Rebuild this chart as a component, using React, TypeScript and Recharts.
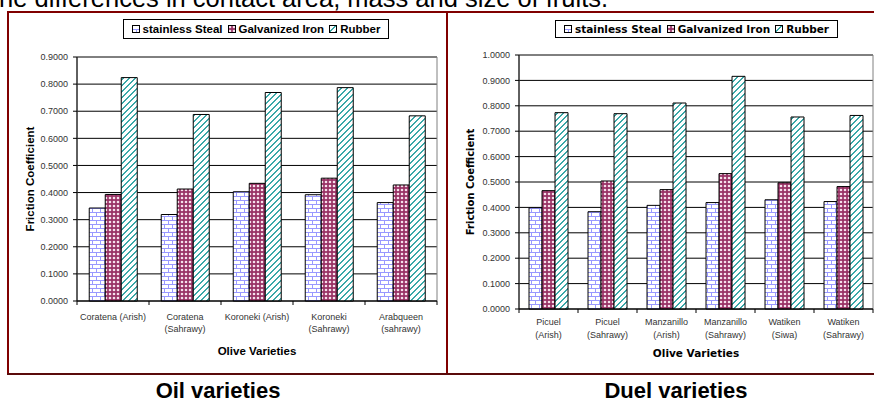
import React from 'react';
import { Bar, BarChart, CartesianGrid, Legend, ReferenceArea, XAxis, YAxis } from 'recharts';

// Oil varieties
const oilCategories = ['Coratena (Arish)', 'Coratena\n(Sahrawy)', 'Koroneki (Arish)', 'Koroneki\n(Sahrawy)', 'Arabqueen\n(sahrawy)'];
const oilStainless = [0.343, 0.319, 0.403, 0.392, 0.363];
const oilGalvanized = [0.393, 0.413, 0.434, 0.453, 0.428];
const oilRubber = [0.824, 0.688, 0.769, 0.787, 0.683];
const oilTicks = [0, 0.1, 0.2, 0.3, 0.4, 0.5, 0.6, 0.7, 0.8, 0.9];

// Duel varieties
const duelCategories = ['Picuel\n(Arish)', 'Picuel\n(Sahrawy)', 'Manzanillo\n(Arish)', 'Manzanillo\n(Sahrawy)', 'Watiken\n(Siwa)', 'Watiken\n(Sahrawy)'];
const duelStainless = [0.399, 0.383, 0.408, 0.419, 0.43, 0.423];
const duelGalvanized = [0.466, 0.504, 0.47, 0.533, 0.497, 0.482];
const duelRubber = [0.773, 0.769, 0.811, 0.916, 0.756, 0.762];
const duelTicks = [0, 0.1, 0.2, 0.3, 0.4, 0.5, 0.6, 0.7, 0.8, 0.9, 1.0];

const seriesNames = ['stainless Steal', 'Galvanized Iron', 'Rubber'];
const seriesKeys = ['steel', 'iron', 'rubber'];
const seriesFills = ['url(#fillBrick)', 'url(#fillDots)', 'url(#fillHatch)'];

const ARIAL = '"Liberation Sans", Arial, sans-serif';
const VERDANA = '"DejaVu Sans", Verdana, sans-serif';
const FRAME = '#800000';
const TEAL = '#3aa8a8';

const buildRows = (cats: string[], a: number[], b: number[], c: number[]) =>
  cats.map((name, i) => ({ name, steel: a[i], iron: b[i], rubber: c[i] }));

const oilRows = buildRows(oilCategories, oilStainless, oilGalvanized, oilRubber);
const duelRows = buildRows(duelCategories, duelStainless, duelGalvanized, duelRubber);

// upward diagonal stripes two pixels wide on a 6px tile
const HATCH = 6;
const hatchPixels: [number, number][] = [];
for (let y = 0; y < HATCH; y++) {
  for (let x = 0; x < HATCH; x++) {
    if ((x + y) % HATCH === 0 || (x + y) % HATCH === 1) hatchPixels.push([x, y]);
  }
}

// shared fill patterns, referenced by both charts and both legends
const PatternDefs = () => (
  <svg width={0} height={0} style={{ position: 'absolute' }}>
    <defs>
      <pattern id="fillBrick" width={8} height={8} patternUnits="userSpaceOnUse">
        <rect width={8} height={8} fill="#fff" />
        <g fill="#9999ff" shapeRendering="crispEdges">
          <rect x={0} y={0} width={8} height={1} />
          <rect x={0} y={4} width={8} height={1} />
          <rect x={0} y={0} width={1} height={4} />
          <rect x={4} y={4} width={1} height={4} />
        </g>
      </pattern>
      <pattern id="fillDots" width={4} height={4} patternUnits="userSpaceOnUse">
        <rect width={4} height={4} fill="#993366" />
        <circle cx={2} cy={2} r={1.3} fill="#f2cfe0" />
        <circle cx={2} cy={2} r={0.7} fill="#fff" />
      </pattern>
      <pattern id="fillHatch" width={HATCH} height={HATCH} patternUnits="userSpaceOnUse">
        <rect width={HATCH} height={HATCH} fill="#fff" />
        <g fill={TEAL} shapeRendering="crispEdges">
          {hatchPixels.map(([x, y]) => (
            <rect key={`${x}-${y}`} x={x} y={y} width={1} height={1} />
          ))}
        </g>
      </pattern>
    </defs>
  </svg>
);

const LegendBox = ({ font, size }: { font: string; size: number }) => (
  <div
    style={{
      boxSizing: 'border-box',
      width: '100%',
      height: '100%',
      border: '1px solid #000',
      background: '#fff',
      display: 'flex',
      alignItems: 'center',
      justifyContent: 'center',
      gap: 5,
      fontFamily: font,
      fontWeight: 'bold',
      fontSize: size,
      color: '#000',
      whiteSpace: 'nowrap',
    }}
  >
    {seriesNames.map((n, i) => (
      <span key={n} style={{ display: 'flex', alignItems: 'center', gap: 3 }}>
        <svg width={8} height={8}>
          <rect x={0.5} y={0.5} width={7} height={7} fill={seriesFills[i]} stroke="#000" />
        </svg>
        {n}
      </span>
    ))}
  </div>
);

const CategoryTick = (props: any) => {
  const { x, y, payload, index, visibleTicksCount, firstLine, lineGap } = props;
  const lines = String(payload.value).split('\n');
  const half = payload.offset ?? 0;
  const last = index === visibleTicksCount - 1;
  return (
    <g>
      <line x1={x - half} x2={x - half} y1={y} y2={y + 4} stroke="#000" />
      {last && <line x1={x + half} x2={x + half} y1={y} y2={y + 4} stroke="#000" />}
      <text x={x} y={y} textAnchor="middle" fontSize={9} fontFamily={ARIAL} fill="#333">
        {lines.map((l, i) => (
          <tspan key={i} x={x} dy={i === 0 ? firstLine : lineGap}>
            {l}
          </tspan>
        ))}
      </text>
    </g>
  );
};

interface PanelProps {
  rows: any[];
  ticks: number[];
  width: number;
  height: number;
  margin: { top: number; right: number; left: number; bottom: number };
  yWidth: number;
  xHeight: number;
  titleFont: string;
  titleSize: number;
  yTitleSize: number;
  yTitleDx: number;
  xTitleOffset: number;
  firstLine: number;
  lineGap: number;
  legendPos: { left: number; top: number; width: number; height: number };
  legendSize: number;
}

const FrictionPanel = (p: PanelProps) => {
  const top = p.ticks[p.ticks.length - 1];
  return (
    <BarChart
      width={p.width}
      height={p.height}
      data={p.rows}
      margin={p.margin}
      barCategoryGap="17%"
      barGap={0}
      style={{ background: '#fff' }}
    >
      <CartesianGrid vertical={false} stroke="#000" />
      <ReferenceArea y1={0} y2={top} fill="none" stroke="#808080" strokeWidth={1} ifOverflow="visible" />
      <XAxis
        dataKey="name"
        height={p.xHeight}
        interval={0}
        tickSize={0}
        tickMargin={0}
        axisLine={{ stroke: '#000' }}
        tickLine={false}
        tick={<CategoryTick firstLine={p.firstLine} lineGap={p.lineGap} />}
        label={{
          value: 'Olive Varieties',
          position: 'insideBottom',
          offset: p.xTitleOffset,
          style: { fontFamily: p.titleFont, fontWeight: 'bold', fontSize: p.titleSize, fill: '#000' },
        }}
      />
      <YAxis
        width={p.yWidth}
        domain={[0, top]}
        ticks={p.ticks}
        interval={0}
        tickSize={4}
        tickMargin={5}
        axisLine={{ stroke: '#000' }}
        tickLine={{ stroke: '#000' }}
        tick={{ fontSize: 9, fontFamily: ARIAL, fill: '#333' }}
        tickFormatter={(v: number) => v.toFixed(4)}
        label={{
          value: 'Friction Coefficient',
          angle: -90,
          position: 'center',
          dx: p.yTitleDx,
          style: { fontFamily: p.titleFont, fontWeight: 'bold', fontSize: p.yTitleSize, fill: '#000' },
        }}
      />
      <Legend
        layout="horizontal"
        verticalAlign="middle"
        align="center"
        wrapperStyle={{ ...p.legendPos }}
        content={() => <LegendBox font={p.titleFont} size={p.legendSize} />}
      />
      {seriesKeys.map((k, i) => (
        <Bar
          key={k}
          dataKey={k}
          name={seriesNames[i]}
          fill={seriesFills[i]}
          stroke="#000"
          strokeWidth={1}
          isAnimationActive={false}
        />
      ))}
    </BarChart>
  );
};

const line = (style: React.CSSProperties) => <div style={{ position: 'absolute', background: FRAME, ...style }} />;

const captionStyle: React.CSSProperties = {
  position: 'absolute',
  width: 200,
  top: 379,
  textAlign: 'center',
  fontWeight: 'bold',
  fontSize: 22,
  lineHeight: '24px',
  color: '#000',
};

export default function App() {
  return (
    <div
      style={{
        position: 'absolute',
        left: 0,
        top: 0,
        width: 874,
        height: 405,
        overflow: 'hidden',
        background: '#fff',
        fontFamily: ARIAL,
      }}
    >
      <PatternDefs />
      <div
        style={{
          position: 'absolute',
          left: -8,
          top: -15,
          fontSize: 25.5,
          lineHeight: '26px',
          whiteSpace: 'nowrap',
          color: '#000',
        }}
      >
        the differences in contact area, mass and size of fruits.
      </div>

      <div style={{ position: 'absolute', left: 8, top: 12 }}>
        <FrictionPanel
          rows={oilRows}
          ticks={oilTicks}
          width={438}
          height={361}
          margin={{ top: 45, right: 9, left: 0, bottom: 0 }}
          yWidth={69}
          xHeight={72}
          titleFont={ARIAL}
          titleSize={11.5}
          yTitleSize={11.5}
          yTitleDx={-13}
          xTitleOffset={18}
          firstLine={19}
          lineGap={12}
          legendPos={{ left: 115, top: 7, width: 266, height: 20 }}
          legendSize={11.5}
        />
      </div>

      <div style={{ position: 'absolute', left: 447, top: 12 }}>
        <FrictionPanel
          rows={duelRows}
          ticks={duelTicks}
          width={427}
          height={361}
          margin={{ top: 43, right: 1, left: 0, bottom: 0 }}
          yWidth={72}
          xHeight={64}
          titleFont={VERDANA}
          titleSize={10.5}
          yTitleSize={10}
          yTitleDx={-13}
          xTitleOffset={16}
          firstLine={16}
          lineGap={13}
          legendPos={{ left: 108, top: 8, width: 283, height: 18 }}
          legendSize={10.5}
        />
      </div>

      {line({ left: 7, top: 11, width: 867, height: 2 })}
      {line({ left: 7, top: 11, width: 2, height: 364 })}
      {line({ left: 446, top: 11, width: 2, height: 364 })}
      {line({ left: 7, top: 373, width: 867, height: 2, background: '#5a0a0a' })}

      <div style={{ ...captionStyle, left: 118 }}>Oil varieties</div>
      <div style={{ ...captionStyle, left: 576 }}>Duel varieties</div>
    </div>
  );
}
